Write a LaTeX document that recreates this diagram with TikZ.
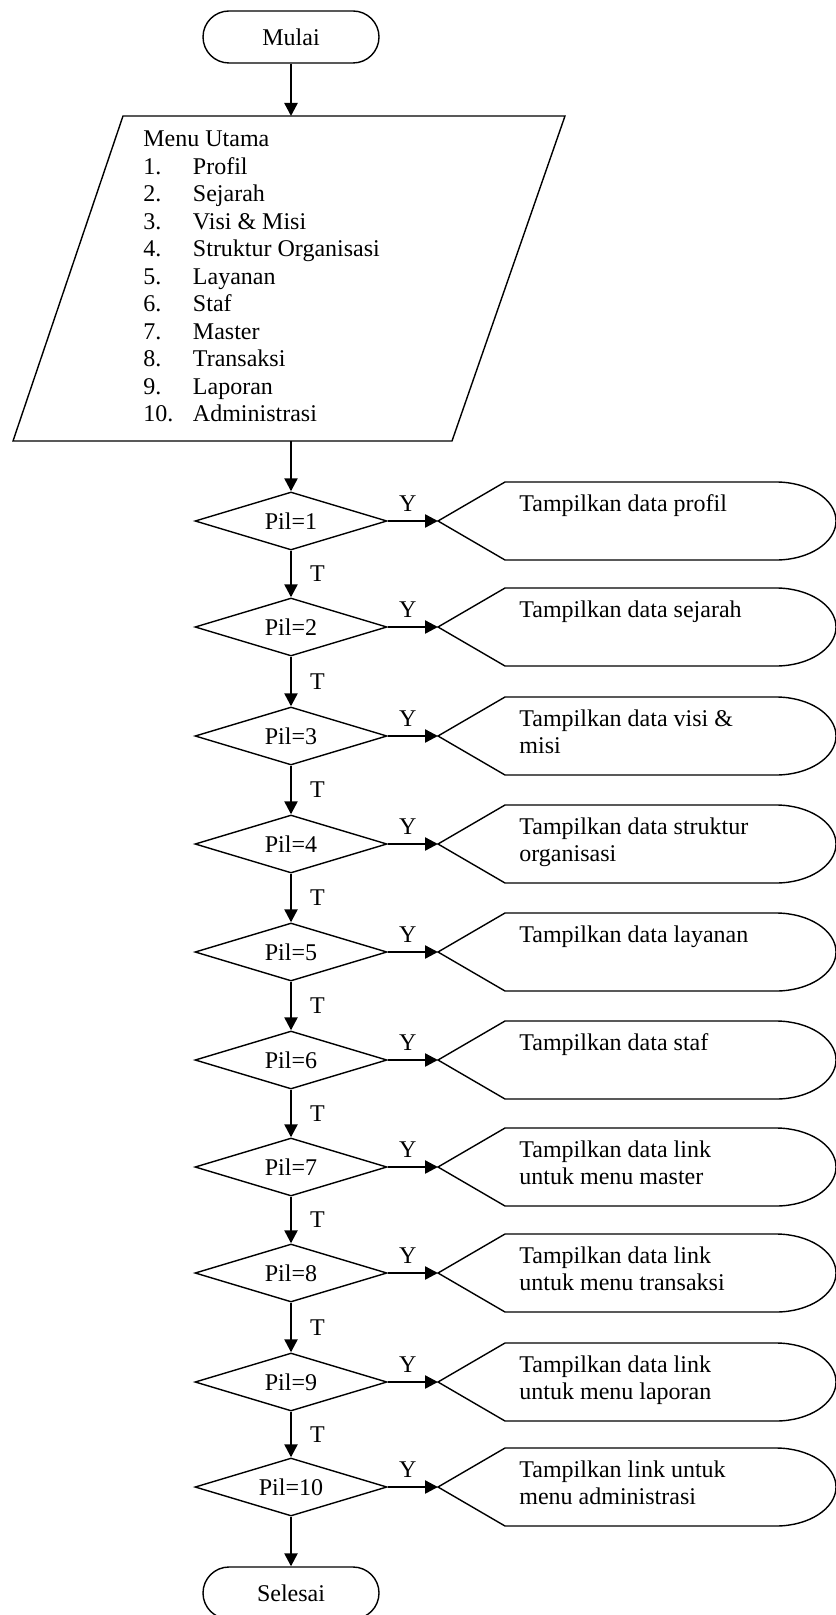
\documentclass[tikz,border=0pt]{standalone}
\usepackage{fontspec}
\setmainfont{Liberation Serif}
\usepackage{tikz}
\usetikzlibrary{shapes.geometric, arrows.meta}

\tikzset{
  term/.style={draw, line width=0.7pt, rounded corners=13pt, minimum width=88pt, minimum height=26pt, inner sep=0pt},
  decision/.style={draw, diamond, line width=0.7pt, aspect=3.3, minimum width=96pt, minimum height=29pt, inner sep=0pt},
  outline/.style={draw, line width=0.7pt, line join=miter},
  flow/.style={line width=1.2pt, -{Triangle[length=6.5pt, width=6.5pt]}},
  disptext/.style={anchor=west, align=left, inner sep=0pt, execute at begin node=\strut, execute at end node=\strut},
  ylabel/.style={pos=0.4, above=2pt, inner sep=2pt},
  tlabel/.style={midway, right=9pt, inner sep=0pt}
}

% display box: #1 name, #2 centre y, #3 text
\newcommand{\tampilbox}[3]{%
  \draw[outline] (438,#2) -- (505,#2-39) -- (776,#2-39)
    .. controls (809,#2-39) and (836,#2-21.5) .. (836,#2)
    .. controls (836,#2+21.5) and (809,#2+39) .. (776,#2+39)
    -- (505,#2+39) -- cycle;
  \coordinate (tip#1) at (438,#2);
  \node[disptext] (out#1) at (519,#2) {#3};
}

\begin{document}
\begin{tikzpicture}[x=0.5pt, y=-0.5pt, font=\fontsize{12}{13.75}\selectfont]
  \useasboundingbox (0,0) rectangle (835,1615);

  % Start
  \node[term] (mulai) at (291,37) {Mulai};

  % Main menu (input)
  \draw[outline] (123,116) -- (565,116) -- (452,441) -- (13,441) -- cycle;
  \coordinate (menuin) at (291,116);
  \coordinate (menuout) at (291,441);
  \node[anchor=base west, inner sep=0pt] (menu) at (143,147) {%
    \begin{tabular}[t]{@{}p{24.8pt}@{}l@{}}
      \multicolumn{2}{@{}l@{}}{Menu Utama}\\
      1. & Profil\\
      2. & Sejarah\\
      3. & Visi \& Misi\\
      4. & Struktur Organisasi\\
      5. & Layanan\\
      6. & Staf\\
      7. & Master\\
      8. & Transaksi\\
      9. & Laporan\\
      10. & Administrasi
    \end{tabular}};
  \draw[flow] (mulai) -- (menuin);

  % Choices
  \node[decision] (pil1) at (291,521) {Pil=1};
  \node[decision] (pil2) at (291,627) {Pil=2};
  \node[decision] (pil3) at (291,736) {Pil=3};
  \node[decision] (pil4) at (291,844) {Pil=4};
  \node[decision] (pil5) at (291,952) {Pil=5};
  \node[decision] (pil6) at (291,1060) {Pil=6};
  \node[decision] (pil7) at (291,1167) {Pil=7};
  \node[decision] (pil8) at (291,1273) {Pil=8};
  \node[decision] (pil9) at (291,1382) {Pil=9};
  \node[decision] (pil10) at (291,1487) {Pil=10};

  % End
  \node[term] (selesai) at (291,1593) {Selesai};

  % Displays
  \tampilbox{1}{521}{Tampilkan data profil\\}
  \tampilbox{2}{627}{Tampilkan data sejarah\\}
  \tampilbox{3}{736}{Tampilkan data visi \&\\misi}
  \tampilbox{4}{844}{Tampilkan data struktur\\organisasi}
  \tampilbox{5}{952}{Tampilkan data layanan\\}
  \tampilbox{6}{1060}{Tampilkan data staf\\}
  \tampilbox{7}{1167}{Tampilkan data link\\untuk menu master}
  \tampilbox{8}{1273}{Tampilkan data link\\untuk menu transaksi}
  \tampilbox{9}{1382}{Tampilkan data link\\untuk menu laporan}
  \tampilbox{10}{1487}{Tampilkan link untuk\\menu administrasi}

  % Flow down (T)
  \draw[flow] (menuout) -- (pil1);
  \draw[flow] (pil1) -- node[tlabel] {T} (pil2);
  \draw[flow] (pil2) -- node[tlabel] {T} (pil3);
  \draw[flow] (pil3) -- node[tlabel] {T} (pil4);
  \draw[flow] (pil4) -- node[tlabel] {T} (pil5);
  \draw[flow] (pil5) -- node[tlabel] {T} (pil6);
  \draw[flow] (pil6) -- node[tlabel] {T} (pil7);
  \draw[flow] (pil7) -- node[tlabel] {T} (pil8);
  \draw[flow] (pil8) -- node[tlabel] {T} (pil9);
  \draw[flow] (pil9) -- node[tlabel] {T} (pil10);
  \draw[flow] (pil10) -- (selesai);

  % Flow right (Y)
  \draw[flow] (pil1) -- node[ylabel] {Y} (tip1);
  \draw[flow] (pil2) -- node[ylabel] {Y} (tip2);
  \draw[flow] (pil3) -- node[ylabel] {Y} (tip3);
  \draw[flow] (pil4) -- node[ylabel] {Y} (tip4);
  \draw[flow] (pil5) -- node[ylabel] {Y} (tip5);
  \draw[flow] (pil6) -- node[ylabel] {Y} (tip6);
  \draw[flow] (pil7) -- node[ylabel] {Y} (tip7);
  \draw[flow] (pil8) -- node[ylabel] {Y} (tip8);
  \draw[flow] (pil9) -- node[ylabel] {Y} (tip9);
  \draw[flow] (pil10) -- node[ylabel] {Y} (tip10);
\end{tikzpicture}
\end{document}
